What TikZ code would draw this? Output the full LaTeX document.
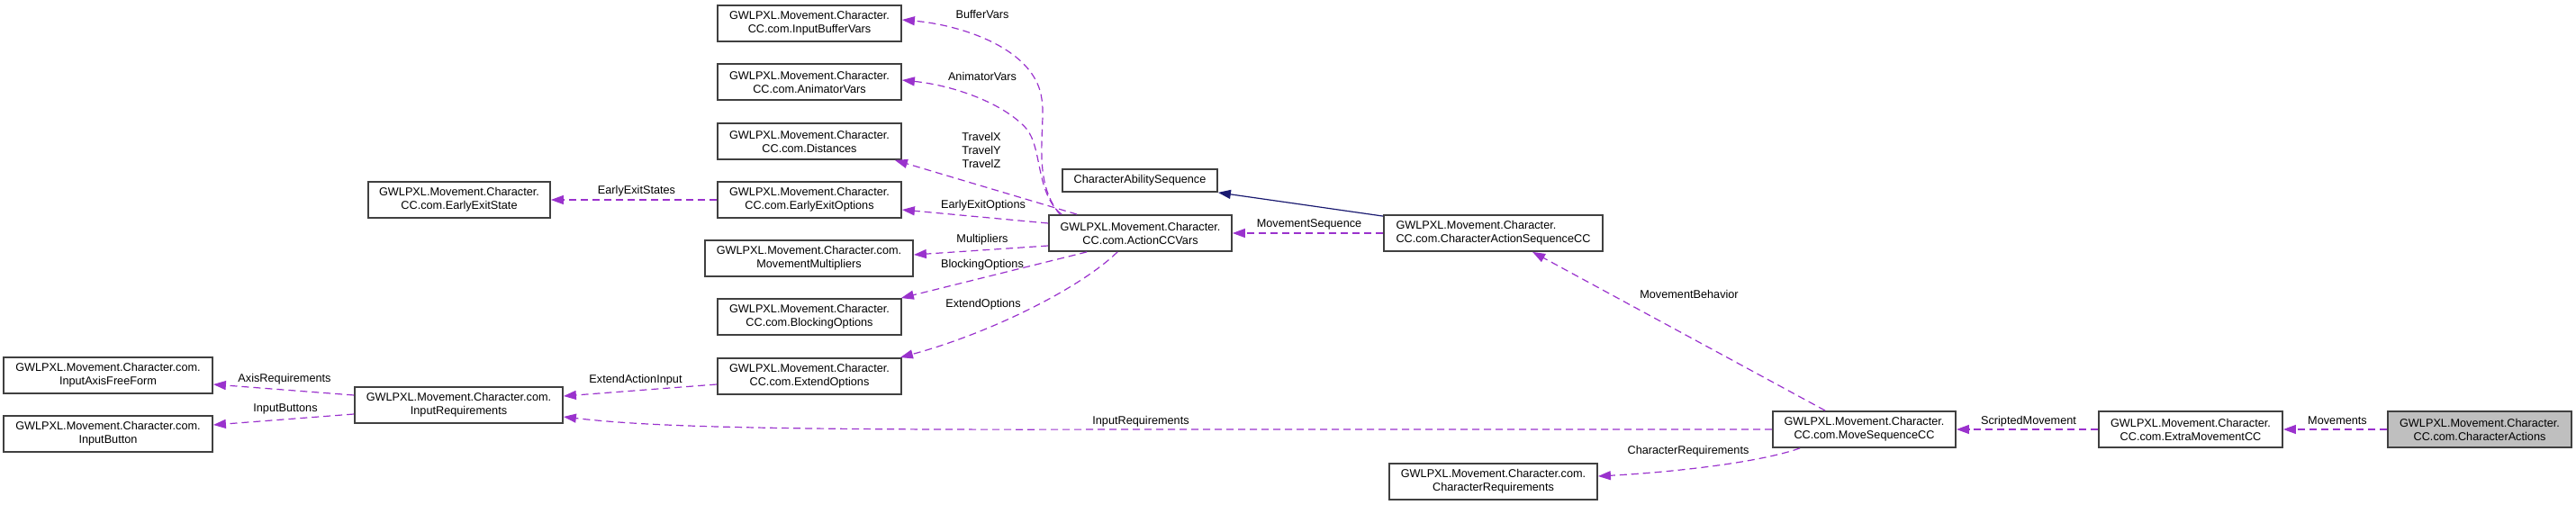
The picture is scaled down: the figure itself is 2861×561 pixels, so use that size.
\documentclass[tikz,border=0pt]{standalone}
\usepackage{fontspec}
\setmainfont{Liberation Sans}
\usetikzlibrary{arrows.meta}
\definecolor{depc}{HTML}{9A32CD}
\definecolor{inhc}{HTML}{191970}
\definecolor{boxgray}{HTML}{BFBFBF}
\definecolor{borderc}{HTML}{404040}
\begin{document}
\begin{tikzpicture}[x=1pt,y=-1pt,
  every node/.style={font=\fontsize{12.7}{15}\selectfont, inner sep=0pt},
  cls/.style={draw=borderc, line width=1.8pt, fill=white, align=center, minimum height=40pt},
  dep/.style={draw=depc, line width=1.2pt, dash pattern=on 8pt off 5pt,
    -{Triangle[length=14pt,width=10pt,fill=depc]}},
  inh/.style={draw=inhc, line width=1.2pt, -{Triangle[length=14pt,width=10pt,fill=inhc]}},
  lbl/.style={text height=9pt, text depth=3pt}]
\useasboundingbox (0,0) rectangle (2861,561);

% class boxes
\node[cls, minimum width=204pt] (ibv) at (899,26) {GWLPXL.Movement.Character.\\CC.com.InputBufferVars};
\node[cls, minimum width=204pt] (av) at (899,91) {GWLPXL.Movement.Character.\\CC.com.AnimatorVars};
\node[cls, minimum width=204pt] (dist) at (899,157) {GWLPXL.Movement.Character.\\CC.com.Distances};
\node[cls, minimum width=204pt] (eeo) at (899,222) {GWLPXL.Movement.Character.\\CC.com.EarlyExitOptions};
\node[cls, minimum width=231pt] (mm) at (898.5,287) {GWLPXL.Movement.Character.com.\\MovementMultipliers};
\node[cls, minimum width=204pt] (bo) at (899,352) {GWLPXL.Movement.Character.\\CC.com.BlockingOptions};
\node[cls, minimum width=204pt] (eo) at (899,418) {GWLPXL.Movement.Character.\\CC.com.ExtendOptions};
\node[cls, minimum width=202pt] (ees) at (510,222) {GWLPXL.Movement.Character.\\CC.com.EarlyExitState};
\node[cls, minimum width=232pt] (iaff) at (120,417) {GWLPXL.Movement.Character.com.\\InputAxisFreeForm};
\node[cls, minimum width=232pt] (ib) at (120,482) {GWLPXL.Movement.Character.com.\\InputButton};
\node[cls, minimum width=231pt] (ir) at (509.5,450) {GWLPXL.Movement.Character.com.\\InputRequirements};
\node[cls, minimum width=172pt, minimum height=25pt] (cas) at (1266,200.5) {CharacterAbilitySequence};
\node[cls, minimum width=203pt] (acv) at (1266.5,259) {GWLPXL.Movement.Character.\\CC.com.ActionCCVars};
\node[cls, minimum width=243pt, align=left] (casc) at (1658.5,259) {GWLPXL.Movement.Character.\\CC.com.CharacterActionSequenceCC};
\node[cls, minimum width=203pt] (msc) at (2070.5,477) {GWLPXL.Movement.Character.\\CC.com.MoveSequenceCC};
\node[cls, minimum width=231pt] (cr) at (1658.5,535) {GWLPXL.Movement.Character.com.\\CharacterRequirements};
\node[cls, minimum width=204pt] (emc) at (2433,477) {GWLPXL.Movement.Character.\\CC.com.ExtraMovementCC};
\node[cls, minimum width=204pt, fill=boxgray] (ca) at (2754,477) {GWLPXL.Movement.Character.\\CC.com.CharacterActions};

% connectors
\draw[dep] ([xshift=13pt]acv.north west) .. controls (1145,200) and (1162,140) .. (1157,110)
  .. controls (1150,55) and (1070,28) .. ([yshift=4pt]ibv.east);
\draw[dep] ([xshift=15pt]acv.north west) .. controls (1150,215) and (1158,165) .. (1140,143)
  .. controls (1115,115) and (1060,95) .. ([yshift=2pt]av.east);
\draw[dep] ([xshift=32pt]acv.north west) -- ([xshift=-8pt]dist.south east);
\draw[dep] ([yshift=11pt]acv.west) -- ([yshift=-11pt]eeo.east);
\draw[dep] ([yshift=-14pt]acv.west) -- ([yshift=4pt]mm.east);
\draw[dep] ([xshift=43pt]acv.south west) -- ([xshift=-1pt]bo.north east);
\draw[dep] ([xshift=77pt]acv.south west) .. controls (1200,320) and (1100,370) .. ([xshift=-2pt]eo.north east);
\draw[dep] (casc.west) -- (acv.east);
\draw[inh] ([yshift=-2pt]casc.north west) -- (cas.south east);
\draw[dep] (eeo.west) -- (ees.east);
\draw[dep] ([yshift=-9pt]eo.west) -- ([yshift=10pt]ir.east);
\draw[dep] ([yshift=11pt]ir.west) -- ([yshift=-10pt]iaff.east);
\draw[dep] ([yshift=-10pt]ir.west) -- ([yshift=10pt]ib.east);
\draw[dep] (msc.west) -- (1250,477) .. controls (850,478) and (720,474) .. ([yshift=-13pt]ir.east);
\draw[dep] ([xshift=59pt]msc.north west) -- ([xshift=166pt]casc.south west);
\draw[dep] ([xshift=31pt]msc.south west) .. controls (1950,515) and (1850,525) .. ([yshift=6pt]cr.east);
\draw[dep] (emc.west) -- (msc.east);
\draw[dep] (ca.west) -- (emc.east);

% labels
\node[lbl] (l1) at (1091,18) {BufferVars};
\node[lbl] (l2) at (1091,87) {AnimatorVars};
\node[align=center] (l3) at (1090,167) {TravelX\\TravelY\\TravelZ};
\node[lbl] (l4) at (1092,229) {EarlyExitOptions};
\node[lbl] (l5) at (1091,267) {Multipliers};
\node[lbl] (l6) at (1091,295) {BlockingOptions};
\node[lbl] (l7) at (1092,338) {ExtendOptions};
\node[lbl] (l8) at (1454,250) {MovementSequence};
\node[lbl] (l9) at (707,213) {EarlyExitStates};
\node[lbl] (l10) at (706,422) {ExtendActionInput};
\node[lbl] (l11) at (316,421) {AxisRequirements};
\node[lbl] (l12) at (317,454) {InputButtons};
\node[lbl] (l13) at (1267,468) {InputRequirements};
\node[lbl] (l14) at (1876,328) {MovementBehavior};
\node[lbl] (l15) at (1875,501) {CharacterRequirements};
\node[lbl] (l16) at (2253,468) {ScriptedMovement};
\node[lbl] (l17) at (2596,468) {Movements};
\end{tikzpicture}
\end{document}
